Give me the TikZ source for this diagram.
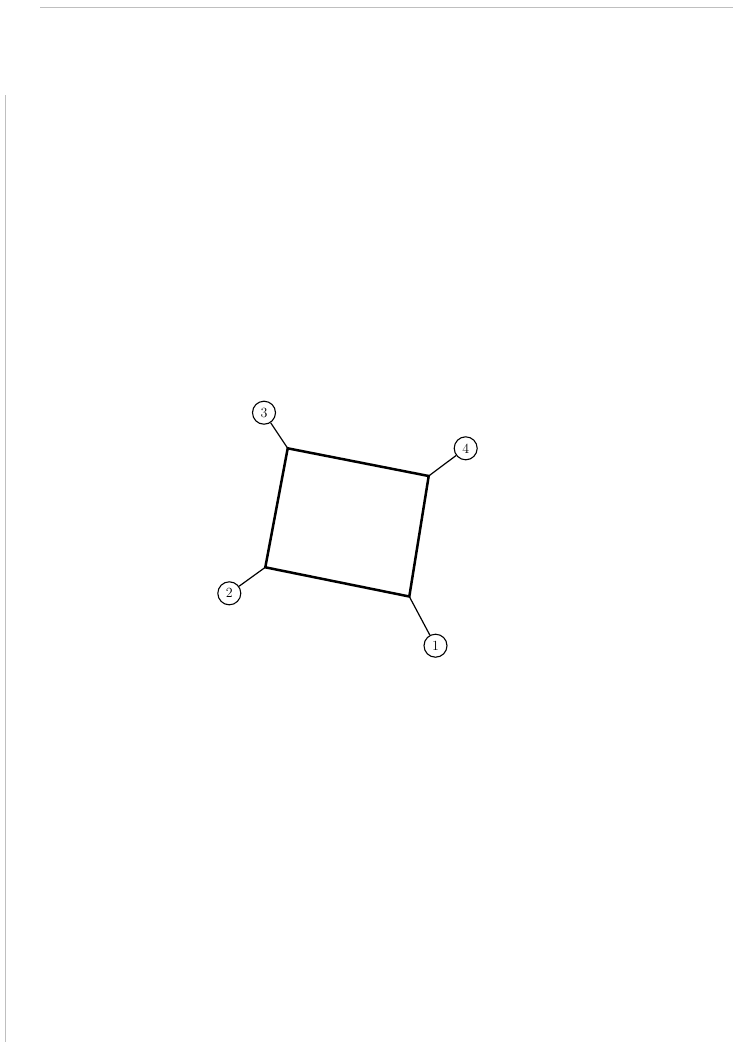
\documentclass[tikz,border=0pt]{standalone}
\usepackage{tikz}
\usetikzlibrary{calc, positioning}

\begin{document}
\begin{tikzpicture}[
  x=1pt, y=-1pt,
  font=\fontsize{14}{16}\selectfont,
  num/.style={draw, circle, line width=1.1pt, minimum size=23pt, inner sep=0pt},
  edge/.style={line width=2.5pt, line join=miter},
  lead/.style={line width=1.2pt},
  scan/.style={draw=black!25, line width=0.8pt}
]
\useasboundingbox (0,0) rectangle (733,1042);
% faint page edges of the scan
\draw[scan] (40,7) -- (733,7);
\draw[scan] (5,95) -- (5,1042);

% corners of the panel
\coordinate (c1) at (409.3,596.5);
\coordinate (c2) at (265.3,567.3);
\coordinate (c3) at (287.7,448.3);
\coordinate (c4) at (428.7,476.0);
\draw[edge] (c1) -- (c2) -- (c3) -- (c4) -- cycle;

% numbered corners
\node[num] (n1) at (435.5,645.7) {1};
\node[num] (n2) at (229.3,593.3) {2};
\node[num] (n3) at (264.0,412.7) {3};
\node[num] (n4) at (465.7,448.3) {4};
\draw[lead] (c1) -- (n1);
\draw[lead] (c2) -- (n2);
\draw[lead] (c3) -- (n3);
\draw[lead] (c4) -- (n4);
\end{tikzpicture}
\end{document}
